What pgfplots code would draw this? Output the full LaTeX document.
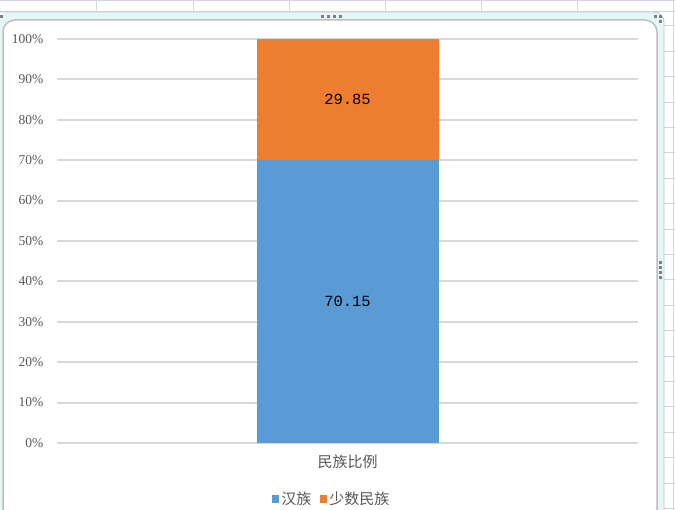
\documentclass[border=0pt]{standalone}
\usepackage{pgfplots}
\pgfplotsset{compat=1.18}
\usepackage{fontspec}
\setmainfont{Liberation Serif}
\newfontfamily\cjk{Noto Sans CJK SC}
\newfontfamily\monofont{Liberation Mono}
\definecolor{hanblue}{HTML}{5B9BD5}
\definecolor{minorange}{HTML}{ED7D31}
\definecolor{gridgray}{HTML}{D9D9D9}
\definecolor{framegray}{HTML}{BEBEBE}
\definecolor{cellline}{HTML}{D0D7E5}
\definecolor{selband}{HTML}{E4F6F6}
\definecolor{handle}{HTML}{7F7F7F}
\definecolor{txtgray}{HTML}{595959}
\pgfplotsset{
    chartbox/.style={
        at={(57pt,67pt)}, anchor=south west,
        scale only axis,
        width=581pt, height=404pt,
        xmin=-1, xmax=1,
        ymin=0, ymax=100,
    }
}
\begin{document}
\begin{tikzpicture}
\useasboundingbox[fill=white] (0pt,0pt) rectangle (675pt,510pt);
% spreadsheet cells behind the chart
\foreach \cx in {96,193,289,385,481,577} \draw[cellline, line width=1pt] (\cx pt,510pt) -- (\cx pt,498pt);
\draw[cellline, line width=1pt] (0pt,509pt) -- (675pt,509pt);
\draw[cellline, line width=1pt] (0pt,498.5pt) -- (675pt,498.5pt);
\draw[cellline, line width=1pt] (673pt,0pt) -- (673pt,510pt);
\foreach \k in {0,...,19} \draw[cellline, line width=1pt] (664pt,484pt-\k*25.4pt) -- (675pt,484pt-\k*25.4pt);
% selection band and chart frame
\fill[selband, rounded corners=10pt] (0pt,-5pt) -- (0pt,498pt) -- (664pt,498pt) -- (664pt,-5pt) -- cycle;
\draw[framegray!80!cellline, line width=0.8pt, rounded corners=10pt] (0pt,498pt) -- (664pt,498pt) -- (664pt,-5pt);
\fill[white, rounded corners=12pt] (3pt,-5pt) -- (3pt,490pt) -- (657pt,490pt) -- (657pt,-5pt) -- cycle;
\draw[framegray, line width=1.5pt, rounded corners=12pt] (3pt,-5pt) -- (3pt,490pt) -- (657pt,490pt) -- (657pt,-5pt);
\fill[handle] (0pt,492pt) rectangle (3pt,495pt);
\foreach \hx in {321,327,333,339} \fill[handle] (\hx pt,492pt) rectangle (\hx pt+3pt,495pt);
\fill[handle] (654pt,492pt) rectangle (657pt,495pt);
\fill[handle] (659pt,492pt) rectangle (662pt,495pt);
\fill[handle] (659pt,487pt) rectangle (662pt,490pt);
\foreach \hy in {231,236,241,246} \fill[handle] (659pt,\hy pt) rectangle (662pt,\hy pt+3pt);
\begin{axis}[
    chartbox,
    ybar stacked,
    bar width=182pt,
    xtick={0}, xticklabels={民族比例},
    x tick label style={font=\cjk\fontsize{15}{17}\selectfont, text=txtgray, yshift=-8pt},
    ytick={0,10,...,100},
    yticklabel={\pgfmathprintnumber{\tick}\%},
    y tick label style={font=\fontsize{13.5}{15}\selectfont, text=txtgray, xshift=-10pt},
    /pgf/number format/assume math mode=true,
    ymajorgrids,
    grid style={gridgray, line width=2pt},
    axis line style={draw=none},
    tick style={draw=none},
    legend style={at={(axis description cs:0.473,-0.139)}, anchor=center,
        legend columns=-1, draw=none, fill=none, font=\cjk\fontsize{15}{17}\selectfont,
        text=txtgray, /tikz/every even column/.append style={column sep=7pt}},
    legend image code/.code={\fill[#1] (3pt,-4pt) rectangle (10pt,4pt);},
]
\addplot[fill=hanblue, draw=none] coordinates {(0,70.15)};
\addplot[fill=minorange, draw=none] coordinates {(0,29.85)};
\legend{汉族,少数民族}
\end{axis}
% data labels at the middle of each segment
\begin{axis}[
    chartbox,
    hide axis,
    point meta=explicit symbolic,
    nodes near coords,
    every node near coord/.style={anchor=center, font=\monofont\fontsize{15.5}{17}\selectfont, text=black},
]
\addplot[only marks, mark=none] coordinates {(0,35.075)[70.15] (0,85.075)[29.85]};
\end{axis}
\end{tikzpicture}
\end{document}
